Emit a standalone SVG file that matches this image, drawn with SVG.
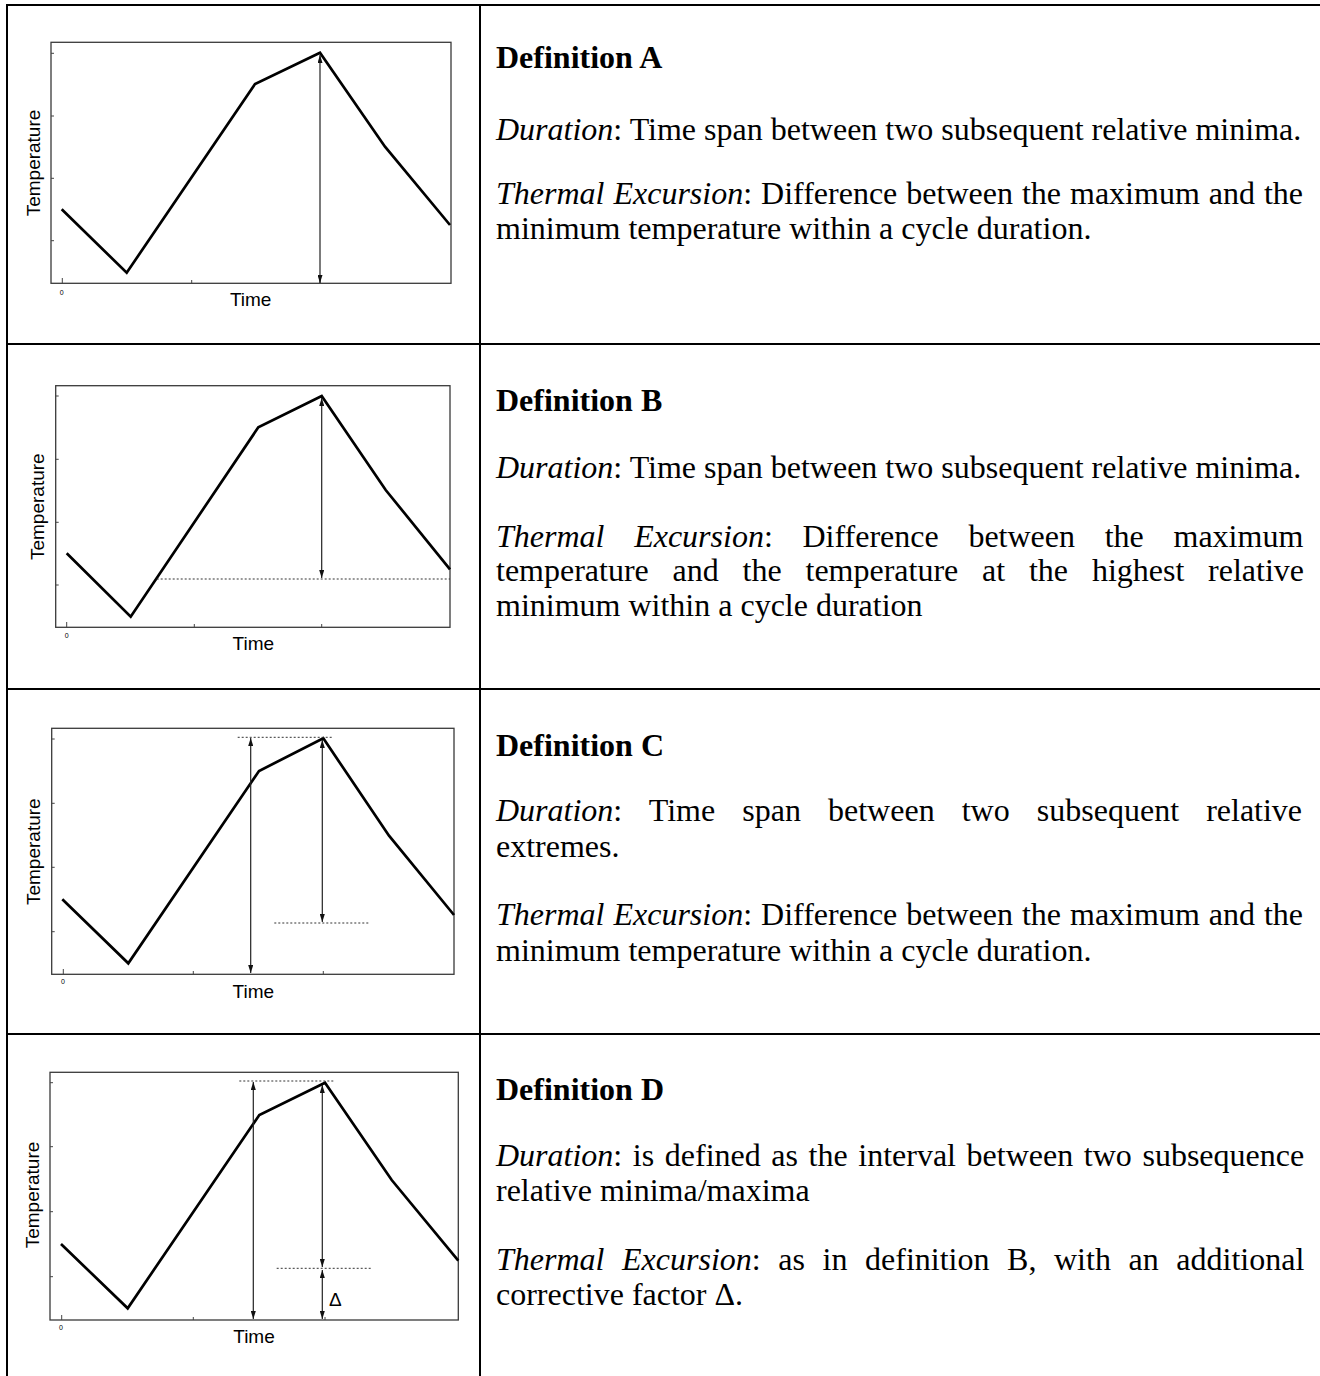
<svg xmlns="http://www.w3.org/2000/svg" width="1320" height="1376" viewBox="0 0 1320 1376">
<style>
.frame{stroke:#000;stroke-width:2;fill:none}
.box{fill:none;stroke:#3a3a3a;stroke-width:1.3}
.curve{fill:none;stroke:#000;stroke-width:2.7;stroke-linejoin:miter}
.arr{stroke:#222;stroke-width:1.2;fill:none;marker-start:url(#ah);marker-end:url(#ah)}
.dot{stroke:#333;stroke-width:1;stroke-dasharray:2 2;fill:none}
.tick{stroke:#444;stroke-width:1}
.ax{font-family:"Liberation Sans",Arial,sans-serif;font-size:19px;fill:#000}
.zero{font-family:"Liberation Sans",Arial,sans-serif;font-size:7px;fill:#000}
.body{font-family:"Liberation Serif","Times New Roman",serif;font-size:32px;fill:#000}
.title{font-weight:bold}
.it{font-style:italic}
</style>
<defs>
<marker id="ah" viewBox="0 0 8 5" refX="8" refY="2.5" markerWidth="8" markerHeight="5" markerUnits="userSpaceOnUse" orient="auto-start-reverse">
<path d="M0,0 L8,2.5 L0,5 z" fill="#111"/>
</marker>
</defs>
<rect width="1320" height="1376" fill="#fff"/>

<g id="table" class="frame">
<line x1="7" y1="5" x2="1320" y2="5"/>
<line x1="7" y1="344" x2="1320" y2="344"/>
<line x1="7" y1="689" x2="1320" y2="689"/>
<line x1="7" y1="1034" x2="1320" y2="1034"/>
<line x1="7" y1="4" x2="7" y2="1376"/>
<line x1="480" y1="4" x2="480" y2="1376"/>
</g>

<g id="chartA">
<rect class="box" x="51" y="42.3" width="400" height="241"/>
<g class="tick">
<line x1="51" y1="53.3" x2="54" y2="53.3"/><line x1="51" y1="116" x2="54" y2="116"/><line x1="51" y1="178.3" x2="54" y2="178.3"/><line x1="51" y1="240.7" x2="54" y2="240.7"/>
<line x1="62.3" y1="283.3" x2="62.3" y2="278"/><line x1="191.7" y1="283.3" x2="191.7" y2="280"/><line x1="320" y1="283.3" x2="320" y2="280"/>
</g>
<polyline class="curve" points="61.7,209.3 126.7,272.7 255,84 320,52.7 385,146.7 450,225"/>
<line class="arr" x1="320" y1="55" x2="320" y2="283"/>
<text class="zero" x="61.7" y="295" text-anchor="middle">0</text>
<text class="ax" x="250.7" y="306" text-anchor="middle">Time</text>
<text class="ax" x="40" y="163" text-anchor="middle" transform="rotate(-90 40 163)">Temperature</text>
</g>

<g id="textA" class="body">
<text class="title" x="496" y="67.5">Definition A</text>
<text x="496" y="140"><tspan class="it">Duration</tspan>: Time span between two subsequent relative minima.</text>
<text x="496" y="204" word-spacing="1"><tspan class="it">Thermal Excursion</tspan>: Difference between the maximum and the</text>
<text x="496" y="239">minimum temperature within a cycle duration.</text>
</g>

<g id="chartB">
<rect class="box" x="55.7" y="385.7" width="394.3" height="241.6"/>
<g class="tick">
<line x1="55.7" y1="396" x2="58.7" y2="396"/><line x1="55.7" y1="459.3" x2="58.7" y2="459.3"/><line x1="55.7" y1="522.3" x2="58.7" y2="522.3"/><line x1="55.7" y1="585" x2="58.7" y2="585"/>
<line x1="66.7" y1="627.3" x2="66.7" y2="622"/><line x1="194.3" y1="627.3" x2="194.3" y2="624"/><line x1="321.7" y1="627.3" x2="321.7" y2="624"/>
</g>
<polyline class="curve" points="66.7,553.3 130.7,616.7 258.3,427.3 321.7,396 385.7,490 450,569.3"/>
<line class="dot" x1="156.7" y1="579" x2="450" y2="579"/>
<line class="arr" x1="321.7" y1="398" x2="321.7" y2="578"/>
<text class="zero" x="66.7" y="638" text-anchor="middle">0</text>
<text class="ax" x="253.3" y="650" text-anchor="middle">Time</text>
<text class="ax" x="44.5" y="506.7" text-anchor="middle" transform="rotate(-90 44.5 506.7)">Temperature</text>
</g>

<g id="textB" class="body">
<text class="title" x="496" y="410.5">Definition B</text>
<text x="496" y="478"><tspan class="it">Duration</tspan>: Time span between two subsequent relative minima.</text>
<text x="496" y="547" word-spacing="21.7"><tspan class="it">Thermal Excursion</tspan>: Difference between the maximum</text>
<text x="496" y="581" word-spacing="15.8">temperature and the temperature at the highest relative</text>
<text x="496" y="616">minimum within a cycle duration</text>
</g>

<g id="chartC">
<rect class="box" x="51.7" y="728.3" width="402.3" height="246"/>
<g class="tick">
<line x1="51.7" y1="739" x2="54.7" y2="739"/><line x1="51.7" y1="803.3" x2="54.7" y2="803.3"/><line x1="51.7" y1="867.3" x2="54.7" y2="867.3"/><line x1="51.7" y1="931.7" x2="54.7" y2="931.7"/>
<line x1="63.3" y1="974.3" x2="63.3" y2="969"/><line x1="193.3" y1="974.3" x2="193.3" y2="971"/><line x1="323.3" y1="974.3" x2="323.3" y2="971"/>
</g>
<polyline class="curve" points="62.3,899.3 128.3,963.3 259,771 323.3,738.3 389,835.7 454,915"/>
<line class="dot" x1="237.7" y1="737.3" x2="331.7" y2="737.3"/>
<line class="dot" x1="274.3" y1="923" x2="368.3" y2="923"/>
<line class="arr" x1="250.7" y1="738" x2="250.7" y2="973"/>
<line class="arr" x1="322.3" y1="740" x2="322.3" y2="922"/>
<text class="zero" x="63" y="984" text-anchor="middle">0</text>
<text class="ax" x="253.3" y="997.7" text-anchor="middle">Time</text>
<text class="ax" x="40.3" y="851.7" text-anchor="middle" transform="rotate(-90 40.3 851.7)">Temperature</text>
</g>

<g id="textC" class="body">
<text class="title" x="496" y="755.5">Definition C</text>
<text x="496" y="821" word-spacing="19.1"><tspan class="it">Duration</tspan>: Time span between two subsequent relative</text>
<text x="496" y="857">extremes.</text>
<text x="496" y="925" word-spacing="1"><tspan class="it">Thermal Excursion</tspan>: Difference between the maximum and the</text>
<text x="496" y="961">minimum temperature within a cycle duration.</text>
</g>

<g id="chartD">
<rect class="box" x="50" y="1072.3" width="408.3" height="247.7"/>
<g class="tick">
<line x1="50" y1="1082.7" x2="53" y2="1082.7"/><line x1="50" y1="1146.7" x2="53" y2="1146.7"/><line x1="50" y1="1211.7" x2="53" y2="1211.7"/><line x1="50" y1="1276.7" x2="53" y2="1276.7"/>
<line x1="61.7" y1="1320" x2="61.7" y2="1315"/><line x1="193.3" y1="1320" x2="193.3" y2="1317"/><line x1="325" y1="1320" x2="325" y2="1317"/>
</g>
<polyline class="curve" points="61,1244 127.7,1308.3 259.3,1115 325,1082.7 391.7,1180 458.3,1260.7"/>
<line class="dot" x1="239.3" y1="1081" x2="333.3" y2="1081"/>
<line class="dot" x1="276.7" y1="1268.3" x2="371" y2="1268.3"/>
<line class="arr" x1="253.3" y1="1082" x2="253.3" y2="1319"/>
<line class="arr" x1="322.3" y1="1085" x2="322.3" y2="1267"/>
<line class="arr" x1="322.3" y1="1270" x2="322.3" y2="1319"/>
<text class="ax" x="329" y="1306">Δ</text>
<text class="zero" x="61" y="1330" text-anchor="middle">0</text>
<text class="ax" x="254" y="1342.7" text-anchor="middle">Time</text>
<text class="ax" x="38.5" y="1195" text-anchor="middle" transform="rotate(-90 38.5 1195)">Temperature</text>
</g>

<g id="textD" class="body">
<text class="title" x="496" y="1099.5">Definition D</text>
<text x="496" y="1166" word-spacing="2.6"><tspan class="it">Duration</tspan>: is defined as the interval between two subsequence</text>
<text x="496" y="1201">relative minima/maxima</text>
<text x="496" y="1270" word-spacing="9.6"><tspan class="it">Thermal Excursion</tspan>: as in definition B, with an additional</text>
<text x="496" y="1305">corrective factor Δ.</text>
</g>
</svg>
